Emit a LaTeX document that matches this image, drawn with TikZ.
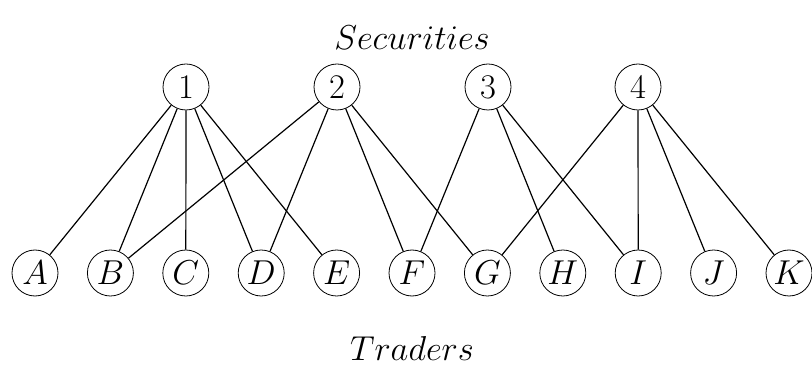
\documentclass[tikz,border=0pt]{standalone}
\begin{document}
\begin{tikzpicture}[x=0.5pt,y=-0.5pt,
  vert/.style={circle,draw,inner sep=0pt,minimum size=23pt,font=\fontsize{16.5}{20}\selectfont},
  caption/.style={font=\fontsize{16.5}{20}\selectfont},
  edge/.style={draw,line width=0.6pt}]
\useasboundingbox (0,0) rectangle (812,368);
% securities
\foreach \n/\x in {1/186,2/337,3/488,4/638}
  \node[vert] (s\n) at (\x,87) {$\n$};
% traders
\foreach \n [count=\i from 0] in {A,B,C,D,E,F,G,H,I,J,K}
  \node[vert] (t\n) at ({35+75.4*\i},273) {$\n$};
\node[caption] (sec) at (412,38) {$Securities$};
\node[caption] (tra) at (412,348) {$Traders$};
% holdings
\foreach \s/\t in {1/A,1/B,1/C,1/D,1/E,2/B,2/D,2/F,2/G,3/F,3/H,3/I,4/G,4/I,4/J,4/K}
  \draw[edge] (s\s) -- (t\t);
\end{tikzpicture}
\end{document}
